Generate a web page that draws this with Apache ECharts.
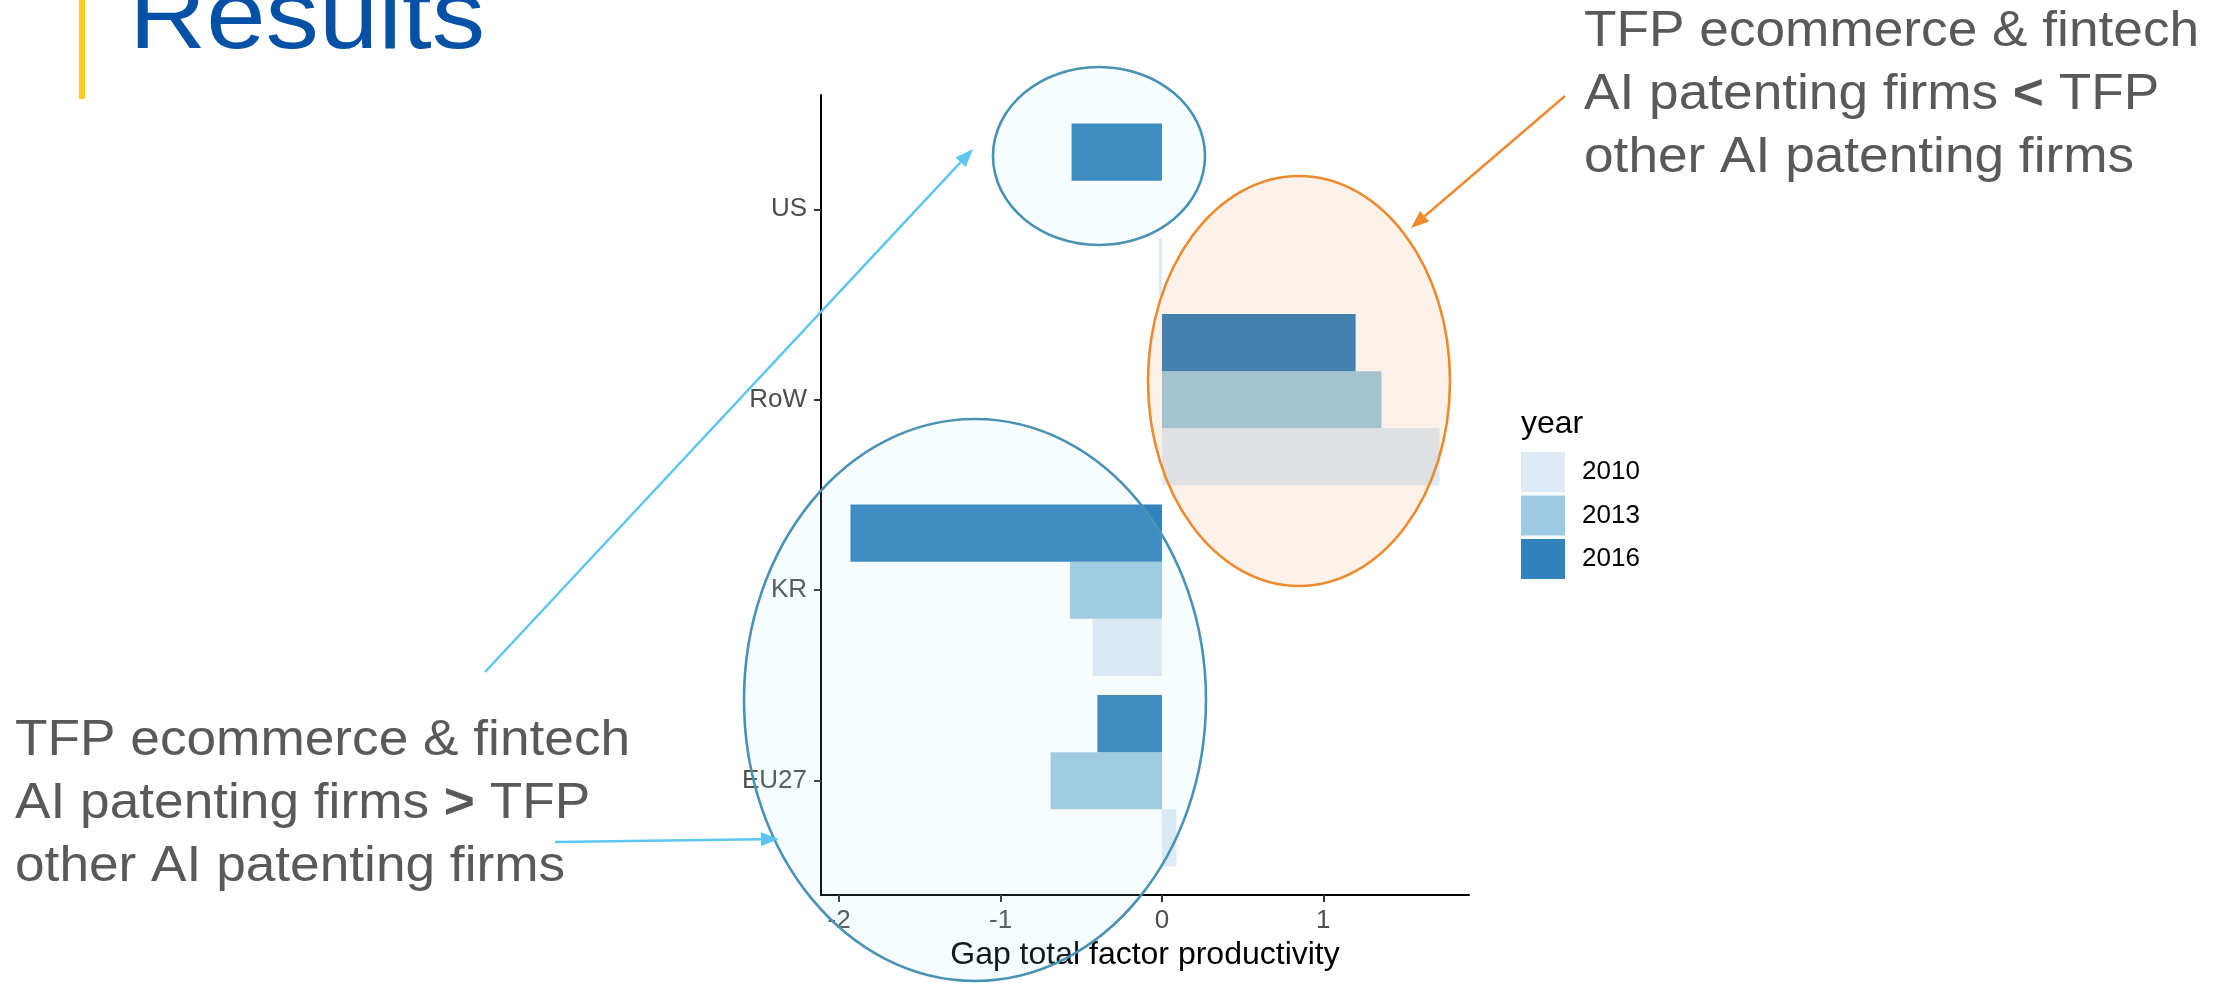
<!DOCTYPE html>
<html>
<head>
<meta charset="utf-8">
<title>Results</title>
<script src="https://cdn.jsdelivr.net/npm/echarts@6/dist/echarts.min.js"></script>
<style>
  html, body { margin: 0; padding: 0; background: #fff; }
  #chart { width: 2222px; height: 983px; }
</style>
</head>
<body>
<div id="chart"></div>
<script>
// values
const countries = ['EU27', 'KR', 'RoW', 'US']
const years = ['2010', '2013', '2016']
const gap2010 = [0.09, -0.43, 1.72, -0.02]
const gap2013 = [-0.69, -0.57, 1.36, null]
const gap2016 = [-0.40, -1.93, 1.20, -0.56]
const xTicks = [-2, -1, 0, 1]

const yearColors = ['#DEEBF7', '#9ECAE1', '#3182BD']
const dodge = [-0.3, 0, 0.3]   // 2010 bottom, 2016 top
const FONT = "'Liberation Sans', Arial, sans-serif"

// ggplot style 5% padding on the value axis
const allVals = gap2010.concat(gap2013, gap2016).filter(v => v != null)
const lo = Math.min(...allVals), hi = Math.max(...allVals)
const pad = (hi - lo) * 0.05

const renderBar = (params, api) => {
    const v = api.value(0), c = api.value(1), off = api.value(2)
    const p0 = api.coord([0, c + off + 0.15])
    const p1 = api.coord([v, c + off - 0.15])
    return {
        type: 'rect',
        shape: {
            x: Math.min(p0[0], p1[0]),
            y: p0[1],
            width: Math.abs(p1[0] - p0[0]),
            height: p1[1] - p0[1]
        },
        style: { fill: api.visual('color') }
    }
}

const yearData = [gap2010, gap2013, gap2016]
const series = years.map((y, k) => ({
    name: y,
    type: 'custom',
    itemStyle: { color: yearColors[k] },
    encode: { x: 0, y: 1 },
    renderItem: renderBar,
    data: yearData[k].map((v, i) => [v, i + 1, dodge[k]]).filter(d => d[0] != null)
}))

// slide annotations (pixel space)
const arrow = (x1, y1, x2, y2, color) => {
    const a = Math.atan2(y2 - y1, x2 - x1), len = 18, half = 7
    const bx = x2 - len * Math.cos(a), by = y2 - len * Math.sin(a)
    const nx = -Math.sin(a) * half, ny = Math.cos(a) * half
    return [
        { type: 'line', z: 60, silent: true, shape: { x1: x1, y1: y1, x2: bx, y2: by }, style: { stroke: color, lineWidth: 2.5 } },
        { type: 'polygon', z: 60, silent: true, shape: { points: [[x2, y2], [bx + nx, by + ny], [bx - nx, by - ny]] }, style: { fill: color } }
    ]
}

const slideText = (x, baseline, text, size, color, rich, sx) => ({
    type: 'text', z: 70, silent: true,
    x: x, y: baseline - size * 0.35,
    scaleX: sx || 1.075,
    style: {
        text: text, fill: color,
        fontSize: size, fontFamily: FONT,
        verticalAlign: 'middle', align: 'left',
        rich: rich || {}
    }
})

const boldLt = { b: { fontSize: 49.5, fontFamily: FONT, fontWeight: 'bold', fill: '#595959' } }
const blueLine = '#4A92B4', orange = '#EE8A2E', skyBlue = '#5CC6F2'

const graphics = [
    { type: 'rect', silent: true, shape: { x: 79, y: 0, width: 6, height: 99 }, style: { fill: '#FFCB2B' } },
    slideText(129, 55, 'Results', 98, '#0451A5', null, 1.09),

    // ellipses over the bars
    { type: 'ellipse', z: 50, silent: true, shape: { cx: 1099, cy: 156, rx: 106, ry: 89 },
      style: { fill: 'rgba(180,228,228,0.11)', stroke: blueLine, lineWidth: 2.6 } },
    { type: 'ellipse', z: 50, silent: true, shape: { cx: 1299, cy: 381, rx: 151, ry: 205 },
      style: { fill: 'rgba(237,125,49,0.1)', stroke: orange, lineWidth: 2.6 } },
    { type: 'ellipse', z: 50, silent: true, shape: { cx: 975, cy: 700, rx: 231, ry: 281 },
      style: { fill: 'rgba(180,228,228,0.11)', stroke: blueLine, lineWidth: 2.6 } },

    ...arrow(485, 672, 973, 149, skyBlue),
    ...arrow(555, 842, 779, 839, skyBlue),
    ...arrow(1565, 96, 1411, 228, orange),

    slideText(1584, 50, 'TFP ecommerce & fintech', 49.5, '#595959'),
    slideText(1584, 113, 'AI patenting firms {b|<} TFP', 49.5, '#595959', boldLt),
    slideText(1584, 176, 'other AI patenting firms', 49.5, '#595959'),

    slideText(15, 759, 'TFP ecommerce & fintech', 49.5, '#595959'),
    slideText(15, 822, 'AI patenting firms {b|>} TFP', 49.5, '#595959', boldLt),
    slideText(15, 885, 'other AI patenting firms', 49.5, '#595959'),

    // legend title
    { type: 'text', z: 70, silent: true, x: 1521, y: 435 - 32 * 0.35,
      style: { text: 'year', fill: '#000', fontSize: 32, fontFamily: FONT, verticalAlign: 'middle', align: 'left' } }
]

const option = {
    animation: false,
    backgroundColor: '#fff',
    textStyle: { fontFamily: FONT },
    grid: {
        left: 821,
        right: 753,
        top: 95,
        bottom: 88,
        containLabel: false,
        outerBoundsMode: 'none'
    },
    legend: {
        data: years,
        orient: 'vertical',
        left: 1521,
        top: 452,
        padding: 0,
        icon: 'rect',
        itemWidth: 44,
        itemHeight: 40,
        itemGap: 3.5,
        selectedMode: false,
        textStyle: { fontSize: 26, color: '#000', fontFamily: FONT, padding: [0, 0, 0, 12] }
    },
    xAxis: {
        type: 'value',
        min: lo - pad,
        max: hi + pad,
        name: 'Gap total factor productivity',
        nameLocation: 'middle',
        nameGap: 40,
        nameTextStyle: { fontSize: 32, color: '#000', fontFamily: FONT },
        axisLine: { show: true, onZero: false, lineStyle: { color: '#000', width: 2 } },
        axisTick: { show: true, customValues: xTicks, length: 7, lineStyle: { color: '#333', width: 2 } },
        axisLabel: { customValues: xTicks, fontSize: 26, color: '#4D4D4D', margin: 13 },
        splitLine: { show: false }
    },
    yAxis: {
        type: 'value',
        min: 0.4,
        max: countries.length + 0.6,
        axisLine: { show: true, onZero: false, lineStyle: { color: '#000', width: 2 } },
        axisTick: { show: true, customValues: countries.map((c, i) => i + 1), length: 7, lineStyle: { color: '#333', width: 2 } },
        axisLabel: {
            customValues: countries.map((c, i) => i + 1),
            formatter: v => countries[Math.round(v) - 1] || '',
            fontSize: 26,
            color: '#4D4D4D',
            margin: 14
        },
        splitLine: { show: false }
    },
    graphic: graphics,
    series: series
}

const myChart = echarts.init(document.getElementById('chart'))
myChart.setOption(option)
</script>
</body>
</html>
